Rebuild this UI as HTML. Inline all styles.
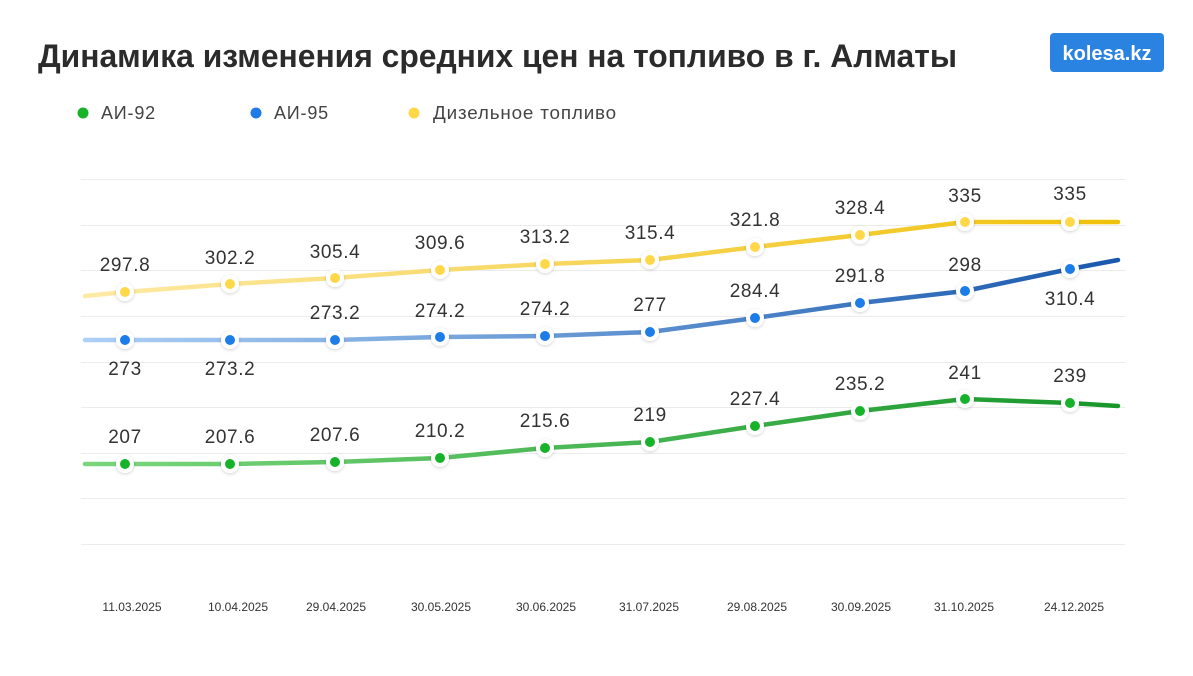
<!DOCTYPE html>
<html><head><meta charset="utf-8"><style>
body{margin:0;background:#fff;}
svg text{font-family:"Liberation Sans",sans-serif;}
</style></head><body>
<svg width="1193" height="671" viewBox="0 0 1193 671" xmlns="http://www.w3.org/2000/svg">
<defs>
<linearGradient id="gy" x1="85" x2="1118" y1="0" y2="0" gradientUnits="userSpaceOnUse"><stop offset="0" stop-color="#fdeaa6"/><stop offset="1" stop-color="#f0c10a"/></linearGradient>
<linearGradient id="gb" x1="85" x2="1118" y1="0" y2="0" gradientUnits="userSpaceOnUse"><stop offset="0" stop-color="#acd0f6"/><stop offset="1" stop-color="#1858ad"/></linearGradient>
<linearGradient id="gg" x1="85" x2="1118" y1="0" y2="0" gradientUnits="userSpaceOnUse"><stop offset="0" stop-color="#7ad67c"/><stop offset="1" stop-color="#17962a"/></linearGradient>
<filter id="sh" x="-50%" y="-50%" width="200%" height="200%"><feDropShadow dx="0" dy="1" stdDeviation="1.5" flood-color="#000" flood-opacity="0.18"/></filter>
</defs>
<text x="38" y="67" font-size="32" font-weight="bold" fill="#2b2b2b" textLength="919" lengthAdjust="spacingAndGlyphs">Динамика изменения средних цен на топливо в г. Алматы</text>
<rect x="1050" y="33" width="114" height="39" rx="4" fill="#2a83e0"/>
<text x="1107" y="60" font-size="20" font-weight="bold" fill="#fff" text-anchor="middle">kolesa.kz</text>
<g font-size="18" fill="#444" letter-spacing="0.8">
<circle cx="83" cy="113" r="5.5" fill="#19b32a"/><text x="101" y="119">АИ-92</text>
<circle cx="256" cy="113" r="5.5" fill="#1e7be8"/><text x="274" y="119">АИ-95</text>
<circle cx="414" cy="113" r="5.5" fill="#ffd84a"/><text x="433" y="119" textLength="184" lengthAdjust="spacingAndGlyphs">Дизельное топливо</text>
</g>
<g stroke="#ececec" stroke-width="1">
<line x1="81" x2="1125" y1="179.5" y2="179.5"/><line x1="81" x2="1125" y1="225.5" y2="225.5"/>
<line x1="81" x2="1125" y1="270.5" y2="270.5"/><line x1="81" x2="1125" y1="316.5" y2="316.5"/>
<line x1="81" x2="1125" y1="362.5" y2="362.5"/><line x1="81" x2="1125" y1="407.5" y2="407.5"/>
<line x1="81" x2="1125" y1="453.5" y2="453.5"/><line x1="81" x2="1125" y1="498.5" y2="498.5"/>
<line x1="81" x2="1125" y1="544.5" y2="544.5"/>
</g>
<g fill="none" stroke-width="4.5" stroke-linecap="round" stroke-linejoin="round">
<polyline stroke="url(#gy)" points="85,296 125,292 230,284 335,278 440,270 545,264 650,260 755,247 860,235 965,222 1070,222 1118,222"/>
<polyline stroke="url(#gb)" points="85,340 125,340 230,340 335,340 440,337 545,336 650,332 755,318 860,303 965,291 1070,269 1118,260"/>
<polyline stroke="url(#gg)" points="85,464 125,464 230,464 335,462 440,458 545,448 650,442 755,426 860,411 965,399 1070,403 1118,406"/>
</g>
<g stroke="#fff" stroke-width="4" filter="url(#sh)">
<g fill="#ffd84a"><circle cx="125" cy="292" r="7"/><circle cx="230" cy="284" r="7"/><circle cx="335" cy="278" r="7"/><circle cx="440" cy="270" r="7"/><circle cx="545" cy="264" r="7"/><circle cx="650" cy="260" r="7"/><circle cx="755" cy="247" r="7"/><circle cx="860" cy="235" r="7"/><circle cx="965" cy="222" r="7"/><circle cx="1070" cy="222" r="7"/></g>
<g fill="#1e7be8"><circle cx="125" cy="340" r="7"/><circle cx="230" cy="340" r="7"/><circle cx="335" cy="340" r="7"/><circle cx="440" cy="337" r="7"/><circle cx="545" cy="336" r="7"/><circle cx="650" cy="332" r="7"/><circle cx="755" cy="318" r="7"/><circle cx="860" cy="303" r="7"/><circle cx="965" cy="291" r="7"/><circle cx="1070" cy="269" r="7"/></g>
<g fill="#19b32a"><circle cx="125" cy="464" r="7"/><circle cx="230" cy="464" r="7"/><circle cx="335" cy="462" r="7"/><circle cx="440" cy="458" r="7"/><circle cx="545" cy="448" r="7"/><circle cx="650" cy="442" r="7"/><circle cx="755" cy="426" r="7"/><circle cx="860" cy="411" r="7"/><circle cx="965" cy="399" r="7"/><circle cx="1070" cy="403" r="7"/></g>
</g>
<g font-size="19" fill="#333" text-anchor="middle" letter-spacing="0.6">
<text x="125" y="271">297.8</text><text x="230" y="264">302.2</text><text x="335" y="258">305.4</text><text x="440" y="249">309.6</text><text x="545" y="243">313.2</text><text x="650" y="239">315.4</text><text x="755" y="226">321.8</text><text x="860" y="214">328.4</text><text x="965" y="202">335</text><text x="1070" y="200">335</text>
<text x="125" y="375">273</text><text x="230" y="375">273.2</text><text x="335" y="319">273.2</text><text x="440" y="317">274.2</text><text x="545" y="315">274.2</text><text x="650" y="311">277</text><text x="755" y="297">284.4</text><text x="860" y="282">291.8</text><text x="965" y="271">298</text><text x="1070" y="305">310.4</text>
<text x="125" y="443">207</text><text x="230" y="443">207.6</text><text x="335" y="441">207.6</text><text x="440" y="437">210.2</text><text x="545" y="427">215.6</text><text x="650" y="421">219</text><text x="755" y="405">227.4</text><text x="860" y="390">235.2</text><text x="965" y="379">241</text><text x="1070" y="382">239</text>
</g>
<g font-size="12" fill="#333" text-anchor="middle">
<text x="132" y="611">11.03.2025</text><text x="238" y="611">10.04.2025</text><text x="336" y="611">29.04.2025</text><text x="441" y="611">30.05.2025</text><text x="546" y="611">30.06.2025</text><text x="649" y="611">31.07.2025</text><text x="757" y="611">29.08.2025</text><text x="861" y="611">30.09.2025</text><text x="964" y="611">31.10.2025</text><text x="1074" y="611">24.12.2025</text>
</g>
</svg>
</body></html>
